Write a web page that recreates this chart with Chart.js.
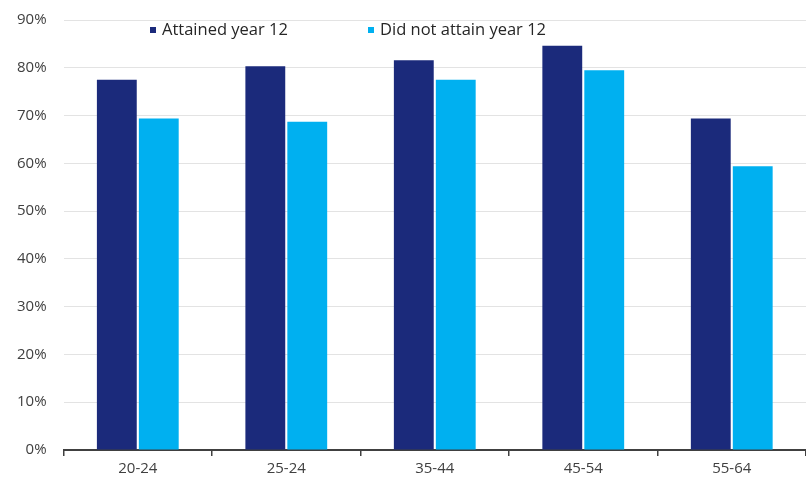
<!DOCTYPE html>
<html>
<head>
<meta charset="utf-8">
<script src="https://cdn.jsdelivr.net/npm/chart.js@4"></script>
<style>
html,body{margin:0;padding:0;background:#fff;}
#wrap{width:806px;height:481px;position:relative;}
</style>
</head>
<body>
<div id="wrap"><canvas id="c" width="806" height="481"></canvas></div>
<script>
const categories = ["20-24", "25-24", "35-44", "45-54", "55-64"];
const attained = [77.5, 80.3, 81.6, 84.6, 69.4];
const notAttained = [69.4, 68.7, 77.5, 79.5, 59.4];
const seriesNames = ["Attained year 12", "Did not attain year 12"];
const yTicks = [0, 10, 20, 30, 40, 50, 60, 70, 80, 90];

const FONT = "'Open Sans', Lato, sans-serif";

const customLegend = {
  id: 'customLegend',
  afterDraw(chart) {
    const ctx = chart.ctx;
    const ds = chart.data.datasets;
    const xs = [150, 368];
    const y = 30;
    ctx.save();
    ctx.font = "16.5px " + FONT;
    ctx.textBaseline = 'middle';
    ds.forEach((d, i) => {
      ctx.fillStyle = d.backgroundColor;
      ctx.fillRect(xs[i], y - 3, 6, 6);
      ctx.fillStyle = '#262626';
      ctx.fillText(d.label, xs[i] + 12, y);
    });
    ctx.restore();
  }
};

new Chart(document.getElementById('c'), {
  type: 'bar',
  data: {
    labels: categories,
    datasets: [
      { label: seriesNames[0], data: attained, backgroundColor: '#1b2a7b' },
      { label: seriesNames[1], data: notAttained, backgroundColor: '#00b0f0' }
    ]
  },
  options: {
    responsive: false,
    animation: false,
    devicePixelRatio: 1,
    layout: { padding: { top: 0, right: 0, bottom: 0, left: 0 } },
    datasets: { bar: { categoryPercentage: 0.565, barPercentage: 0.95 } },
    plugins: { legend: { display: false }, tooltip: { enabled: false } },
    scales: {
      x: {
        grid: { offset: true, drawOnChartArea: false, drawTicks: true, tickLength: 6, color: '#404040', lineWidth: 1.5 },
        border: { display: true, color: '#404040', width: 2 },
        ticks: { color: '#404040', font: { family: FONT, size: 15 }, padding: 3.5 }
      },
      y: {
        min: 0, max: 90,
        afterBuildTicks(axis) { axis.ticks = yTicks.map(v => ({ value: v })); },
        afterFit(axis) { axis.paddingTop = 20; axis.paddingBottom = 0; },
        grid: { color: '#e3e3e3', lineWidth: 1, drawTicks: false },
        border: { display: false },
        ticks: { color: '#404040', font: { family: FONT, size: 15 }, padding: 17, callback: v => v + '%' }
      }
    }
  },
  plugins: [customLegend]
});
</script>
</body>
</html>
